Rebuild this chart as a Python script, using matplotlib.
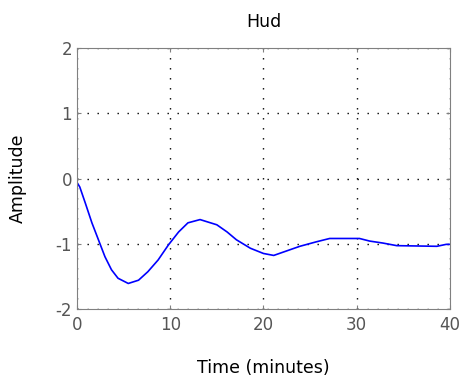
import numpy as np
import matplotlib
matplotlib.use("Agg")
from matplotlib import pyplot as plt

# step response samples (minutes, amplitude)
t = [0, 0.3, 0.9, 1.6, 2.3, 3.0, 3.7, 4.4, 5.5, 6.6, 7.6, 8.7, 9.8, 10.9,
     11.9, 13.2, 15.0, 16.1, 17.1, 18.6, 20.0, 21.1, 22.1, 23.9, 25.7, 27.1,
     30.3, 31.4, 32.8, 34.3, 38.6, 39.6, 40]
y = [-0.06, -0.13, -0.38, -0.68, -0.94, -1.20, -1.40, -1.53, -1.61, -1.56,
     -1.43, -1.25, -1.02, -0.82, -0.68, -0.63, -0.71, -0.82, -0.94, -1.07,
     -1.15, -1.18, -1.13, -1.04, -0.97, -0.92, -0.92, -0.96, -0.99, -1.03,
     -1.04, -1.01, -1.01]

xticks = [0, 10, 20, 30, 40]
yticks = [-2, -1, 0, 1, 2]

plt.rcParams['font.family'] = ['DejaVu Sans']
plt.rcParams['axes.unicode_minus'] = False

fig = plt.figure(figsize=(4.61, 3.79), dpi=100)
ax = fig.add_axes([0.167, 0.185, 0.809, 0.688])

ax.plot(t, y, color=(0, 0, 1), lw=1.2)

ax.set_xlim(0, 40)
ax.set_ylim(-2, 2)
ax.set_xticks(xticks)
ax.set_yticks(yticks)
ax.grid(True, linestyle=(0, (1, 6.2)), color='black', lw=1.0)

for s in ax.spines.values():
    s.set_color('#808080')
ax.tick_params(direction='in', length=3, colors='#808080', labelcolor='#555555',
               labelsize=12, top=True, right=True)
ax.tick_params(axis='x', pad=5)

ax.set_title('Hud', fontsize=12.5, pad=15)
ax.set_xlabel('Time (minutes)', fontsize=12.5, labelpad=18)
ax.set_ylabel('Amplitude', fontsize=12.5, labelpad=21)

fig.savefig('out.png', dpi=100)
